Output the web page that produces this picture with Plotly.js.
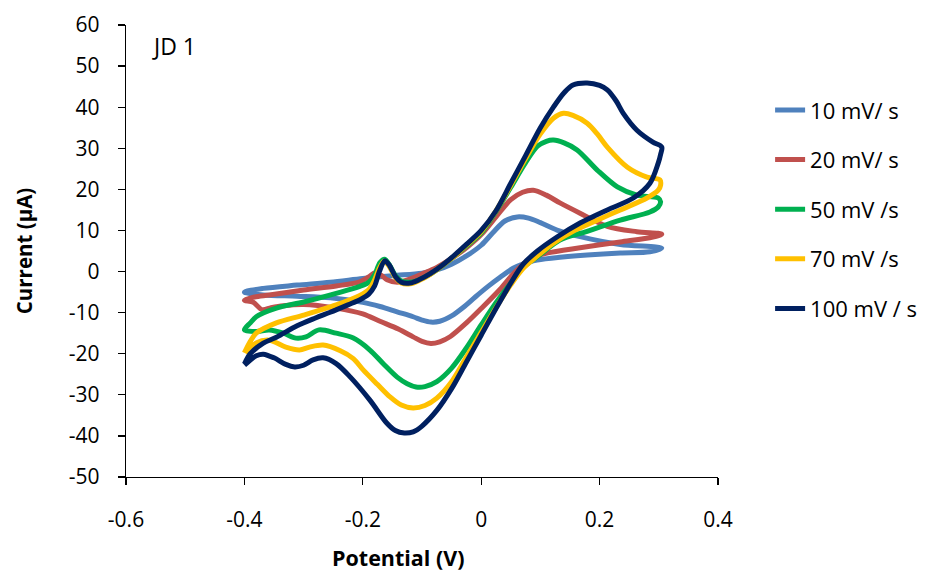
<!DOCTYPE html>
<html>
<head>
<meta charset="utf-8">
<script src="https://cdn.plot.ly/plotly-3.0.1.min.js"></script>
<style>html,body{margin:0;padding:0;background:#fff}#chart{width:925px;height:571px}</style>
</head>
<body>
<div id="chart"></div>
<script>
// Series names
const seriesNames = ["10 mV/ s", "20 mV/ s", "50 mV /s", "70 mV /s", "100 mV / s"];
const seriesColors = ["#4F81BD", "#C0504D", "#00B050", "#FFC000", "#002060"];

// 10 mV/s (forward scan then reverse scan)
const x10 = [-0.40,-0.368,-0.311,-0.255,-0.20,-0.15,-0.10,-0.075,-0.05,-0.025,0.0,0.02,0.04,0.061,0.08,0.10,0.128,0.167,0.235,0.305,
             0.285,0.235,0.179,0.122,0.09,0.071,0.054,0.032,0.01,-0.01,-0.03,-0.05,-0.07,-0.085,-0.10,-0.115,-0.142,-0.171,-0.20,-0.255,-0.311,-0.368,-0.40];
const y10 = [-5.0,-4.1,-3.3,-2.6,-1.7,-1.0,-0.4,0.4,1.8,3.8,6.4,9.5,12.3,13.3,13.0,11.9,10.1,8.5,6.6,5.7,
             4.8,4.5,4.0,3.3,2.7,1.9,0.8,-1.4,-3.8,-6.2,-8.7,-10.8,-12.1,-12.3,-11.8,-11.0,-9.8,-8.5,-7.5,-6.4,-6.0,-5.7,-5.0];

// 20 mV/s
const x20 = [-0.40,-0.383,-0.358,-0.30,-0.245,-0.205,-0.19,-0.179,-0.168,-0.159,-0.142,-0.12,-0.10,-0.075,-0.05,-0.025,0.0,0.025,0.05,0.07,0.088,0.11,0.133,0.167,0.213,0.263,0.305,
             0.29,0.235,0.167,0.111,0.09,0.071,0.054,0.032,0.0,-0.025,-0.052,-0.07,-0.085,-0.10,-0.115,-0.14,-0.171,-0.20,-0.245,-0.30,-0.334,-0.355,-0.37,-0.385,-0.40];
const y20 = [-7.0,-6.2,-5.7,-4.5,-3.5,-2.5,-1.3,-0.3,-1.0,-2.0,-2.6,-1.8,-0.6,1.0,3.2,5.8,9.0,13.3,17.5,19.3,19.8,18.6,16.7,14.2,11.0,9.7,9.1,
             8.4,7.2,5.8,4.5,3.6,1.8,-0.6,-4.3,-9.0,-12.5,-15.8,-17.1,-17.5,-17.0,-15.9,-14.0,-12.1,-10.3,-8.9,-8.0,-8.3,-8.8,-9.3,-7.5,-7.0];

// 50 mV/s
const x50 = [-0.40,-0.39,-0.38,-0.346,-0.30,-0.245,-0.205,-0.19,-0.18,-0.171,-0.163,-0.155,-0.145,-0.135,-0.12,-0.105,-0.086,-0.065,-0.045,-0.025,0.0,0.025,0.05,0.075,0.095,0.11,0.122,0.14,0.162,0.196,0.23,0.263,0.299,0.303,
             0.299,0.285,0.235,0.179,0.133,0.095,0.071,0.05,0.025,0.0,-0.025,-0.05,-0.075,-0.095,-0.11,-0.125,-0.142,-0.165,-0.188,-0.216,-0.245,-0.274,-0.296,-0.313,-0.334,-0.358,-0.38,-0.40];
const y50 = [-14.2,-12.5,-11.0,-8.9,-7.4,-5.3,-3.6,-2.6,-0.8,2.2,3.0,1.6,-1.0,-2.3,-2.6,-2.0,-0.6,1.5,3.8,6.2,9.4,14.6,20.5,26.5,30.5,31.7,32.0,31.3,29.6,24.7,20.6,18.6,17.9,17.0,
             15.7,14.5,12.5,9.8,7.7,3.6,1.0,-2.8,-7.6,-13.0,-18.6,-23.5,-26.8,-28.0,-28.1,-27.3,-25.7,-22.5,-19.1,-16.2,-15.0,-14.2,-15.9,-16.2,-15.0,-14.2,-14.6,-14.2];

// 70 mV/s
const x70 = [-0.40,-0.39,-0.38,-0.346,-0.30,-0.245,-0.205,-0.19,-0.18,-0.172,-0.164,-0.156,-0.146,-0.135,-0.12,-0.105,-0.086,-0.065,-0.045,-0.025,0.0,0.025,0.05,0.075,0.10,0.122,0.139,0.155,0.179,0.196,0.213,0.247,0.28,0.302,
             0.303,0.299,0.28,0.235,0.196,0.155,0.122,0.095,0.071,0.05,0.025,0.0,-0.025,-0.05,-0.075,-0.095,-0.115,-0.135,-0.154,-0.175,-0.199,-0.216,-0.238,-0.267,-0.29,-0.307,-0.33,-0.358,-0.38,-0.397];
const y70 = [-19.8,-17.0,-15.0,-12.5,-10.6,-8.1,-5.8,-4.4,-2.0,0.8,2.5,1.4,-1.2,-2.8,-3.0,-2.2,-0.7,1.5,3.8,6.4,9.7,14.8,21.0,27.5,33.5,37.3,38.5,38.0,36.1,33.5,30.3,25.4,23.0,22.3,
             21.0,19.8,17.9,15.0,12.5,9.8,6.9,3.8,0.8,-3.2,-8.8,-14.8,-20.8,-26.8,-30.8,-32.6,-33.2,-32.5,-30.5,-27.5,-24.0,-21.2,-19.3,-17.9,-18.4,-19.1,-18.4,-16.7,-17.4,-19.8];

// 100 mV/s
const x100 = [-0.40,-0.39,-0.368,-0.346,-0.311,-0.28,-0.255,-0.225,-0.204,-0.19,-0.18,-0.172,-0.163,-0.155,-0.145,-0.135,-0.12,-0.105,-0.086,-0.065,-0.045,-0.025,0.0,0.025,0.05,0.075,0.10,0.122,0.14,0.155,0.179,0.20,0.213,0.228,0.24,0.263,0.29,0.305,
              0.303,0.299,0.285,0.257,0.213,0.167,0.128,0.095,0.071,0.05,0.025,0.0,-0.025,-0.05,-0.075,-0.10,-0.115,-0.13,-0.145,-0.16,-0.188,-0.221,-0.245,-0.267,-0.284,-0.30,-0.315,-0.33,-0.35,-0.368,-0.38,-0.392,-0.40];
const y100 = [-22.5,-20.0,-17.4,-16.0,-13.2,-11.3,-9.9,-8.1,-6.8,-5.5,-3.5,0.0,2.6,1.5,-1.2,-2.6,-2.8,-2.0,-0.5,1.6,4.0,6.6,10.0,14.8,21.5,28.2,35.0,40.0,43.5,45.4,45.9,45.3,44.2,41.5,38.5,34.4,31.5,30.3,
              28.5,26.4,21.5,17.9,15.0,11.8,8.4,5.0,1.8,-2.8,-9.0,-15.5,-22.0,-28.5,-33.8,-37.6,-39.0,-39.3,-38.7,-36.8,-31.3,-25.7,-22.4,-21.0,-21.5,-22.8,-23.2,-22.6,-21.0,-20.1,-20.5,-21.8,-22.8];

// Tick labels
const xTickVals = [-0.6, -0.4, -0.2, 0, 0.2, 0.4];
const xTickText = ["-0.6", "-0.4", "-0.2", "0", "0.2", "0.4"];
const yTickVals = [-50, -40, -30, -20, -10, 0, 10, 20, 30, 40, 50, 60];
const yTickText = ["-50", "-40", "-30", "-20", "-10", "0", "10", "20", "30", "40", "50", "60"];

const xs = [x10, x20, x50, x70, x100];
const ys = [y10, y20, y50, y70, y100];

const FONT = "Open Sans, Noto Sans, sans-serif";

const traces = xs.map((xv, i) => ({
  type: "scatter",
  mode: "lines",
  x: xv,
  y: ys[i],
  name: seriesNames[i],
  legendgroup: "g" + i,
  line: {color: seriesColors[i], width: 5, shape: "spline", smoothing: 0.9},
  hoverinfo: "skip"
}));

const layout = {
  width: 925,
  height: 571,
  margin: {l: 126, r: 207, t: 25, b: 94, pad: 0, autoexpand: false},
  paper_bgcolor: "#ffffff",
  plot_bgcolor: "#ffffff",
  font: {family: FONT, size: 21, color: "#000000"},
  showlegend: true,
  legend: {
    x: 1.088, xanchor: "left",
    y: 0.858, yanchor: "top",
    font: {family: FONT, size: 22, color: "#000000"},
    tracegroupgap: 18,
    bgcolor: "rgba(0,0,0,0)",
    borderwidth: 0
  },
  xaxis: {
    range: [-0.6, 0.4],
    tickmode: "array",
    tickvals: xTickVals,
    ticktext: xTickText,
    showgrid: false,
    zeroline: false,
    showline: true,
    linecolor: "#000000",
    linewidth: 1.3,
    ticks: "outside",
    ticklen: 7,
    tickwidth: 1.3,
    tickcolor: "#000000",
    ticklabelstandoff: 16,
    tickfont: {family: FONT, size: 21, color: "#000000"}
  },
  yaxis: {
    range: [-50, 60],
    tickmode: "array",
    tickvals: yTickVals,
    ticktext: yTickText,
    showgrid: false,
    zeroline: false,
    showline: true,
    linecolor: "#000000",
    linewidth: 1.3,
    ticks: "outside",
    ticklen: 7,
    tickwidth: 1.3,
    tickcolor: "#000000",
    ticklabelstandoff: 14,
    tickfont: {family: FONT, size: 21, color: "#000000"},
    title: {text: "Current (µA)", font: {family: FONT, size: 20.5, color: "#000000", weight: "bold"}, standoff: 30}
  },
  annotations: [
    {text: "JD 1", xref: "paper", yref: "paper", x: 0.04, y: 0.954, xanchor: "left", yanchor: "middle",
     showarrow: false, font: {family: FONT, size: 23, color: "#000000"}},
    {text: "<b>Potential (V)</b>", xref: "paper", yref: "paper", x: 0.46, y: -0.177, xanchor: "center", yanchor: "middle",
     showarrow: false, font: {family: FONT, size: 21.5, color: "#000000"}}
  ]
};

Plotly.newPlot("chart", traces, layout, {displayModeBar: false, staticPlot: true});
</script>
</body>
</html>
